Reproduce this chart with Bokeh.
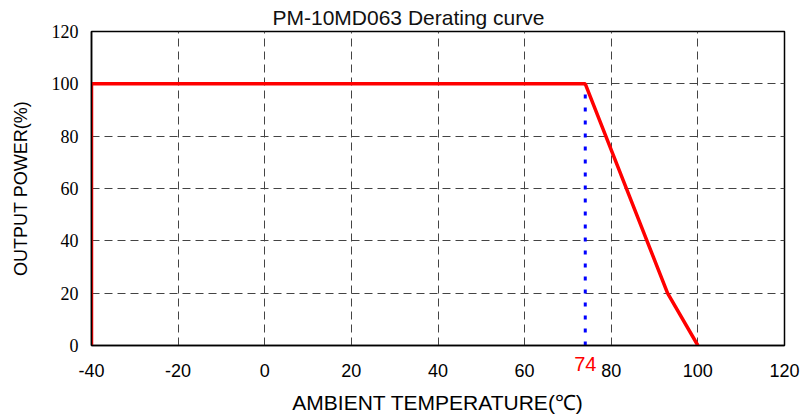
from bokeh.plotting import figure
from bokeh.models import Range1d, FixedTicker, LinearAxis
from bokeh.embed import file_html
from bokeh.resources import INLINE

# ---- data ----
temp = [-40, -40, 74, 93, 100]
power = [0, 100, 100, 20, 0]
derate_temp = 74
derate_power = 100
x_ticks = [-40, -20, 0, 20, 40, 60, 80, 100, 120]
y_ticks = [0, 20, 40, 60, 80, 100, 120]
title_text = "PM-10MD063 Derating curve"
x_label = "AMBIENT TEMPERATURE(℃)"
y_label = "OUTPUT POWER(%)"

p = figure(width=800, height=419, output_backend="svg", toolbar_location=None,
           x_range=Range1d(-40, 120), y_range=Range1d(0, 120),
           min_border_left=91, min_border_right=16, min_border_top=31, min_border_bottom=74)

p.title.text = title_text
p.title.align = "left"
p.title.offset = 181
p.title.standoff = 5
p.title.text_font = "Liberation Sans"
p.title.text_font_size = "21px"
p.title.text_font_style = "normal"
p.title.text_color = "#111111"

p.outline_line_color = "black"
p.outline_line_width = 1.5
p.outline_line_alpha = 1

for ax in (p.xaxis[0], p.yaxis[0]):
    ax.major_tick_out = 0
    ax.major_tick_in = 0
    ax.minor_tick_out = 0
    ax.minor_tick_in = 0
    ax.axis_line_color = "black"
    ax.axis_line_width = 1.5
    ax.major_label_text_color = "black"
    ax.axis_label_text_color = "black"
    ax.axis_label_text_font_style = "normal"
    ax.axis_label_text_font = "Liberation Sans"

p.xaxis.ticker = FixedTicker(ticks=x_ticks)
p.yaxis.ticker = FixedTicker(ticks=y_ticks)
p.xaxis.major_label_overrides = {t: str(t) for t in x_ticks}
p.xaxis.axis_label = x_label
p.yaxis.axis_label = y_label
p.xaxis.axis_label_text_font_size = "21px"
p.yaxis.axis_label_text_font_size = "18px"
p.xaxis.major_label_text_font = "Liberation Sans"
p.xaxis.major_label_text_font_size = "18px"
p.yaxis.major_label_text_font = "Liberation Serif"
p.yaxis.major_label_text_font_size = "18px"
p.xaxis.major_label_standoff = 18
p.yaxis.major_label_standoff = 13
p.xaxis.axis_label_standoff = 11
p.yaxis.axis_label_standoff = 18

for g in (p.xgrid[0], p.ygrid[0]):
    g.grid_line_color = "#444444"
    g.grid_line_dash = "8 5"
    g.grid_line_width = 1
p.xgrid.ticker = FixedTicker(ticks=x_ticks)
p.ygrid.ticker = FixedTicker(ticks=y_ticks)

p.line([derate_temp, derate_temp], [0, derate_power], line_color="blue",
       line_width=3, line_dash="4 9")
p.line(temp, power, line_color="red", line_width=3.5)

# red "74" marker label: a second bottom axis whose label is pulled up into the tick row
mark_axis = LinearAxis(ticker=FixedTicker(ticks=[derate_temp]))
mark_axis.axis_line_color = None
mark_axis.major_tick_line_color = None
mark_axis.minor_tick_line_color = None
mark_axis.major_tick_out = 0
mark_axis.major_tick_in = 0
mark_axis.minor_tick_out = 0
mark_axis.minor_tick_in = 0
mark_axis.major_label_text_color = "red"
mark_axis.major_label_text_font = "Liberation Sans"
mark_axis.major_label_text_font_size = "20px"
mark_axis.major_label_standoff = -60
p.add_layout(mark_axis, "below")

open("out.html", "w").write(file_html(p, INLINE))
